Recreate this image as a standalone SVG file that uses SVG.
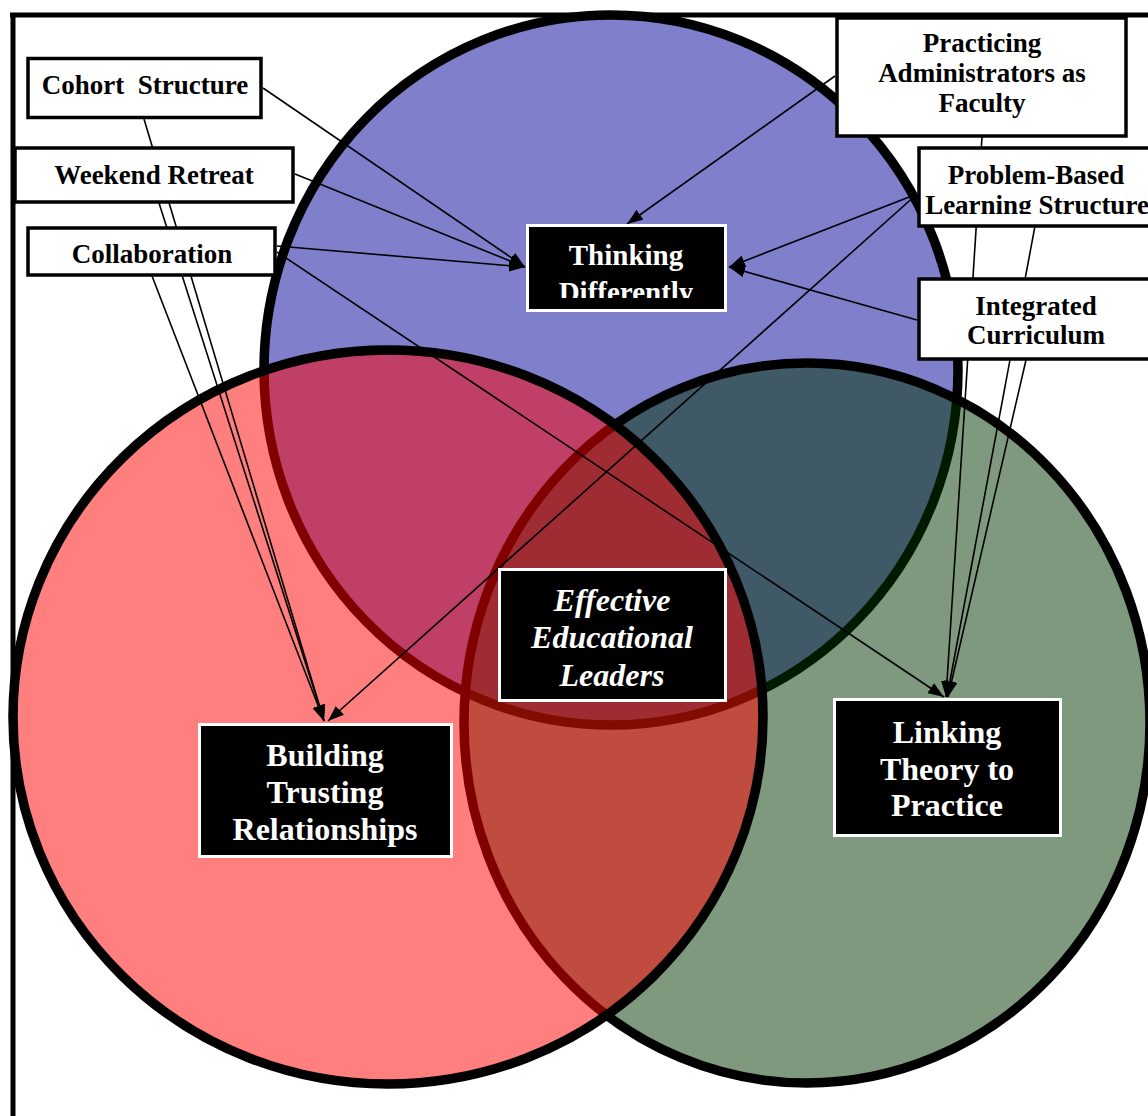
<svg xmlns="http://www.w3.org/2000/svg" width="1148" height="1116" viewBox="0 0 1148 1116">
<style>
.frame{stroke:#000;stroke-width:5;fill:none}
.venn{stroke:#000;stroke-width:9.5;fill-opacity:0.5}
.conn{stroke:#000;stroke-width:1.6;fill:none;marker-end:url(#arrow)}
.lbl rect{fill:#fff;stroke:#000;stroke-width:3.5}
.lbl text{font-family:"Liberation Serif","Times New Roman",serif;font-weight:bold;font-size:27px;fill:#000;text-anchor:middle}
.key rect{fill:#000;stroke:#fff;stroke-width:3}
.key text{font-family:"Liberation Serif","Times New Roman",serif;font-weight:bold;font-size:32px;fill:#fff;text-anchor:middle}
.key text.it{font-style:italic}
</style>
<defs>
<marker id="arrow" viewBox="0 0 16 12" refX="16" refY="6" markerWidth="16" markerHeight="12" markerUnits="userSpaceOnUse" orient="auto">
<path d="M0,0 L16,6 L0,12 z" fill="#000"/>
</marker>
<clipPath id="clipPB"><rect x="917" y="150" width="240" height="64"/></clipPath>
<clipPath id="clipTD"><rect x="529" y="227" width="195" height="71"/></clipPath>
</defs>
<rect x="0" y="0" width="1148" height="1116" fill="#fff"/>
<g id="frame">
<line class="frame" x1="10" y1="15" x2="1148" y2="15"/>
<line class="frame" x1="13" y1="13" x2="13" y2="1116"/>
</g>
<g id="circles">
<ellipse id="circle-thinking" class="venn" cx="611" cy="370" rx="347" ry="355" fill="#000099"/>
<ellipse id="circle-linking" class="venn" cx="807" cy="723" rx="343" ry="360" fill="#003300"/>
<ellipse id="circle-building" class="venn" cx="388" cy="717" rx="375" ry="367" fill="#ff0000"/>
</g>
<g id="connectors">
<line class="conn" x1="263" y1="88" x2="525" y2="267"/>
<line class="conn" x1="295" y1="174" x2="525" y2="267"/>
<line class="conn" x1="277" y1="246" x2="525" y2="267"/>
<line class="conn" x1="835" y1="76" x2="627" y2="224"/>
<line class="conn" x1="917" y1="194" x2="729" y2="267"/>
<line class="conn" x1="917" y1="320" x2="729" y2="267"/>
<line class="conn" x1="144" y1="119" x2="324" y2="721"/>
<line class="conn" x1="159" y1="203" x2="324" y2="721"/>
<line class="conn" x1="152" y1="276" x2="324" y2="721"/>
<line class="conn" x1="917" y1="194" x2="328" y2="721"/>
<line class="conn" x1="277" y1="252" x2="944" y2="697"/>
<line class="conn" x1="982" y1="137" x2="946" y2="697"/>
<line class="conn" x1="1035" y1="226" x2="947" y2="697"/>
<line class="conn" x1="1026" y1="360" x2="948" y2="697"/>
</g>
<g id="cohort-structure" class="lbl">
<rect x="28" y="58.5" width="233" height="59"/>
<text x="145" y="94" xml:space="preserve">Cohort  Structure</text>
</g>
<g id="weekend-retreat" class="lbl">
<rect x="15" y="148" width="278" height="54"/>
<text x="154" y="184">Weekend Retreat</text>
</g>
<g id="collaboration" class="lbl">
<rect x="28" y="228" width="247" height="47"/>
<text x="152" y="263">Collaboration</text>
</g>
<g id="practicing-administrators" class="lbl">
<rect x="837" y="18" width="289" height="118"/>
<text x="982" y="52">Practicing</text>
<text x="982" y="82">Administrators as</text>
<text x="982" y="112">Faculty</text>
</g>
<g id="problem-based-learning" class="lbl">
<rect x="919" y="148" width="260" height="78"/>
<g clip-path="url(#clipPB)">
<text x="1036" y="184">Problem-Based</text>
<text x="1037" y="214">Learning Structure</text>
</g>
</g>
<g id="integrated-curriculum" class="lbl">
<rect x="919" y="279" width="260" height="80"/>
<text x="1036" y="315">Integrated</text>
<text x="1036" y="344">Curriculum</text>
</g>
<g id="thinking-differently" class="key">
<rect x="527.5" y="225.5" width="198" height="85"/>
<g clip-path="url(#clipTD)">
<text x="626" y="265" style="font-size:29px">Thinking</text>
<text x="626" y="302" style="font-size:29px">Differently</text>
</g>
</g>
<g id="effective-educational-leaders" class="key">
<rect x="499.5" y="569.5" width="226" height="131"/>
<text class="it" x="612" y="611">Effective</text>
<text class="it" x="612" y="648">Educational</text>
<text class="it" x="612" y="686">Leaders</text>
</g>
<g id="building-trusting-relationships" class="key">
<rect x="199.5" y="724.5" width="252" height="132"/>
<text x="325" y="766">Building</text>
<text x="325" y="803">Trusting</text>
<text x="325" y="840">Relationships</text>
</g>
<g id="linking-theory-to-practice" class="key">
<rect x="834.5" y="699.5" width="226" height="136"/>
<text x="947" y="743">Linking</text>
<text x="947" y="780">Theory to</text>
<text x="947" y="816">Practice</text>
</g>
</svg>
